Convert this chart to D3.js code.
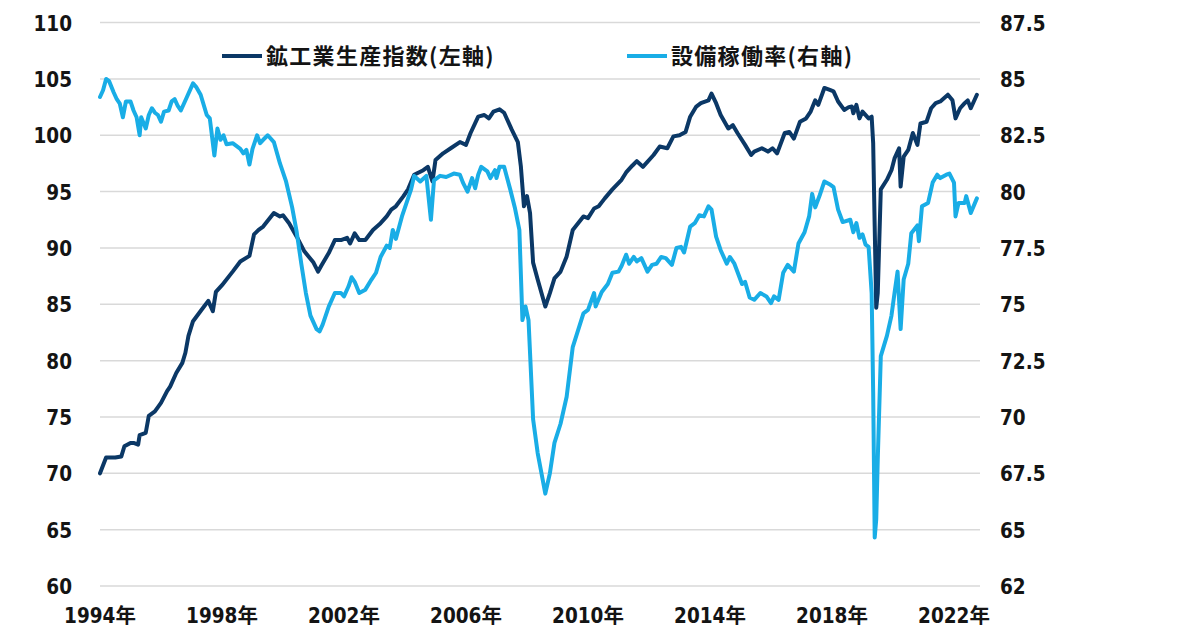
<!DOCTYPE html>
<html lang="ja">
<head>
<meta charset="utf-8">
<title>鉱工業生産指数と設備稼働率</title>
<script src="https://cdn.jsdelivr.net/npm/d3@7"></script>
<style>
  body { margin: 0; background: #fff; }
  svg { display: block; }
  .tick-label {
    font-family: "DejaVu Sans", "Noto Sans CJK JP", sans-serif;
    font-stretch: condensed;
    font-weight: bold;
    font-size: 20.5px;
    fill: #141414;
  }
  .legend-label {
    font-family: "Noto Sans CJK JP", sans-serif;
    font-weight: 700;
    font-size: 22px;
    letter-spacing: 1.3px;
    fill: #141414;
  }
</style>
</head>
<body>
<svg id="chart" width="1200" height="640"></svg>
<script>
// [position on the year axis, value]
const iipPoints = [
  [1994.0, 70.0], [1994.2, 71.4], [1994.5, 71.4], [1994.7, 71.5], [1994.8, 72.4],
  [1995.0, 72.7], [1995.1, 72.7], [1995.25, 72.55], [1995.3, 73.4], [1995.5, 73.6],
  [1995.6, 75.1], [1995.8, 75.5], [1996.0, 76.25], [1996.2, 77.3], [1996.3, 77.7],
  [1996.5, 78.9], [1996.7, 79.8], [1996.8, 80.7], [1996.9, 82.2], [1997.05, 83.5],
  [1997.3, 84.4], [1997.55, 85.3], [1997.7, 84.4], [1997.8, 86.1], [1998.0, 86.7],
  [1998.35, 87.9], [1998.6, 88.8], [1998.9, 89.3], [1999.05, 91.2], [1999.2, 91.6],
  [1999.35, 91.9], [1999.7, 93.1], [1999.9, 92.8], [2000.0, 92.9], [2000.2, 92.2],
  [2000.45, 91.0], [2000.7, 89.7], [2001.0, 88.7], [2001.15, 87.9], [2001.25, 88.4],
  [2001.5, 89.55], [2001.7, 90.7], [2001.9, 90.7], [2002.1, 90.9], [2002.2, 90.4],
  [2002.35, 91.3], [2002.5, 90.7], [2002.7, 90.7], [2002.95, 91.6], [2003.2, 92.2],
  [2003.4, 92.8], [2003.55, 93.4], [2003.7, 93.7], [2003.95, 94.6], [2004.1, 95.2],
  [2004.3, 96.5], [2004.6, 96.9], [2004.75, 97.2], [2004.9, 95.9], [2005.0, 97.8],
  [2005.25, 98.4], [2005.5, 98.85], [2005.8, 99.4], [2006.0, 99.15], [2006.15, 100.2],
  [2006.4, 101.65], [2006.6, 101.8], [2006.75, 101.5], [2006.9, 102.1], [2007.1, 102.3],
  [2007.25, 102.0], [2007.5, 100.5], [2007.7, 99.4], [2007.8, 97.2], [2007.9, 93.7],
  [2008.0, 94.6], [2008.1, 93.1], [2008.2, 88.7], [2008.35, 87.2], [2008.6, 84.8],
  [2008.75, 86.0], [2008.9, 87.3], [2009.1, 87.9], [2009.3, 89.25], [2009.5, 91.6],
  [2009.85, 92.8], [2010.0, 92.65], [2010.2, 93.5], [2010.35, 93.7], [2010.55, 94.4],
  [2010.8, 95.2], [2011.1, 96.05], [2011.25, 96.7], [2011.45, 97.3], [2011.6, 97.7],
  [2011.8, 97.2], [2012.15, 98.25], [2012.35, 99.0], [2012.6, 98.85], [2012.8, 99.9],
  [2013.0, 100.0], [2013.2, 100.3], [2013.35, 101.65], [2013.55, 102.55], [2013.7, 102.85],
  [2013.95, 103.1], [2014.05, 103.7], [2014.2, 102.85], [2014.35, 101.8], [2014.6, 100.6],
  [2014.75, 100.9], [2014.9, 100.2], [2015.15, 99.15], [2015.35, 98.25], [2015.45, 98.55],
  [2015.7, 98.85], [2015.9, 98.55], [2016.05, 98.85], [2016.2, 98.4], [2016.45, 100.2],
  [2016.6, 100.3], [2016.75, 99.7], [2016.95, 101.2], [2017.15, 101.5], [2017.3, 102.1],
  [2017.45, 103.1], [2017.55, 102.7], [2017.75, 104.2], [2017.95, 104.0], [2018.05, 103.9],
  [2018.2, 103.0], [2018.4, 102.25], [2018.55, 102.5], [2018.65, 102.55], [2018.7, 101.95],
  [2018.8, 102.7], [2018.9, 101.5], [2019.0, 102.1], [2019.2, 101.5], [2019.3, 101.65],
  [2019.35, 99.3], [2019.4, 91.9], [2019.45, 84.7], [2019.5, 86.0], [2019.6, 95.2],
  [2019.8, 96.05], [2019.95, 96.9], [2020.05, 97.95], [2020.2, 98.85], [2020.25, 95.45],
  [2020.35, 98.1], [2020.5, 98.7], [2020.65, 100.2], [2020.8, 99.15], [2020.9, 101.05],
  [2021.1, 101.2], [2021.25, 102.4], [2021.4, 102.85], [2021.55, 103.0], [2021.8, 103.6],
  [2021.95, 103.1], [2022.05, 101.5], [2022.2, 102.4], [2022.35, 102.85], [2022.45, 103.1],
  [2022.55, 102.4], [2022.75, 103.6]
];

const utilPoints = [
  [1994.0, 84.2], [1994.1, 84.5], [1994.2, 85.0], [1994.3, 84.9], [1994.45, 84.4],
  [1994.55, 84.1], [1994.65, 83.9], [1994.75, 83.3], [1994.85, 84.0], [1995.0, 84.0],
  [1995.1, 83.6], [1995.2, 83.3], [1995.3, 82.5], [1995.35, 83.3], [1995.5, 82.8],
  [1995.6, 83.4], [1995.7, 83.7], [1995.8, 83.5], [1995.9, 83.4], [1996.0, 83.1],
  [1996.1, 83.55], [1996.25, 83.6], [1996.35, 84.0], [1996.45, 84.1], [1996.55, 83.8],
  [1996.65, 83.6], [1996.85, 84.2], [1997.05, 84.8], [1997.15, 84.65], [1997.3, 84.3],
  [1997.5, 83.4], [1997.6, 83.25], [1997.75, 81.6], [1997.85, 82.8], [1997.95, 82.3],
  [1998.05, 82.5], [1998.15, 82.1], [1998.35, 82.15], [1998.6, 81.9], [1998.7, 81.7],
  [1998.8, 81.85], [1998.9, 81.2], [1999.0, 81.9], [1999.15, 82.5], [1999.25, 82.15],
  [1999.35, 82.3], [1999.5, 82.5], [1999.7, 82.2], [1999.9, 81.25], [2000.1, 80.45],
  [2000.3, 79.3], [2000.45, 78.2], [2000.6, 76.8], [2000.75, 75.5], [2000.9, 74.5],
  [2001.1, 73.9], [2001.2, 73.8], [2001.3, 74.1], [2001.5, 74.9], [2001.7, 75.5],
  [2001.9, 75.5], [2002.0, 75.35], [2002.15, 75.8], [2002.25, 76.2], [2002.35, 76.0],
  [2002.5, 75.5], [2002.7, 75.65], [2002.9, 76.1], [2003.05, 76.4], [2003.2, 77.1],
  [2003.4, 77.6], [2003.5, 77.5], [2003.6, 78.3], [2003.7, 77.9], [2003.9, 78.9],
  [2004.05, 79.5], [2004.2, 80.1], [2004.3, 80.7], [2004.5, 80.45], [2004.7, 80.7],
  [2004.85, 78.75], [2004.95, 80.5], [2005.15, 80.7], [2005.35, 80.65], [2005.6, 80.8],
  [2005.8, 80.75], [2005.9, 80.4], [2006.05, 80.0], [2006.2, 80.6], [2006.3, 80.15],
  [2006.4, 80.75], [2006.5, 81.1], [2006.7, 80.9], [2006.8, 80.6], [2006.95, 80.95],
  [2007.0, 80.6], [2007.1, 81.1], [2007.25, 81.1], [2007.45, 80.1], [2007.6, 79.3],
  [2007.75, 78.3], [2007.85, 74.3], [2007.95, 74.9], [2008.05, 74.3], [2008.2, 69.9],
  [2008.35, 68.4], [2008.6, 66.6], [2008.75, 67.5], [2008.9, 68.85], [2009.1, 69.7],
  [2009.3, 70.9], [2009.5, 73.1], [2009.85, 74.6], [2010.0, 74.75], [2010.2, 75.5],
  [2010.25, 74.9], [2010.45, 75.55], [2010.65, 75.9], [2010.8, 76.4], [2011.0, 76.45],
  [2011.1, 76.7], [2011.25, 77.2], [2011.35, 76.8], [2011.5, 77.1], [2011.6, 76.9],
  [2011.75, 77.05], [2011.95, 76.45], [2012.1, 76.75], [2012.25, 76.8], [2012.4, 77.1],
  [2012.55, 77.05], [2012.75, 76.75], [2012.9, 77.5], [2013.05, 77.55], [2013.15, 77.3],
  [2013.35, 78.45], [2013.5, 78.6], [2013.65, 78.95], [2013.8, 78.9], [2013.95, 79.35],
  [2014.05, 79.2], [2014.2, 78.0], [2014.35, 77.4], [2014.55, 76.8], [2014.65, 77.1],
  [2014.8, 76.8], [2015.05, 75.9], [2015.15, 76.0], [2015.3, 75.3], [2015.45, 75.2],
  [2015.65, 75.5], [2015.85, 75.35], [2016.0, 75.05], [2016.1, 75.35], [2016.25, 75.2],
  [2016.4, 76.4], [2016.55, 76.75], [2016.75, 76.45], [2016.9, 77.7], [2017.1, 78.2],
  [2017.25, 78.9], [2017.35, 79.9], [2017.45, 79.3], [2017.6, 79.85], [2017.75, 80.45],
  [2017.95, 80.3], [2018.05, 80.2], [2018.2, 79.2], [2018.35, 78.65], [2018.6, 78.75],
  [2018.7, 78.2], [2018.8, 78.6], [2018.9, 77.95], [2019.0, 78.1], [2019.1, 77.65],
  [2019.2, 77.55], [2019.3, 75.5], [2019.35, 71.1], [2019.4, 64.65], [2019.45, 65.45],
  [2019.5, 68.1], [2019.6, 72.7], [2019.8, 73.6], [2019.95, 74.5], [2020.05, 75.5],
  [2020.15, 76.45], [2020.25, 73.9], [2020.35, 76.1], [2020.5, 76.8], [2020.6, 78.15],
  [2020.8, 78.5], [2020.85, 77.8], [2020.95, 79.35], [2021.15, 79.5], [2021.3, 80.4],
  [2021.45, 80.75], [2021.55, 80.6], [2021.75, 80.75], [2021.85, 80.8], [2022.0, 80.4],
  [2022.05, 78.9], [2022.15, 79.5], [2022.35, 79.5], [2022.4, 79.8], [2022.55, 79.05],
  [2022.75, 79.7]
];

const leftTicks = [60, 65, 70, 75, 80, 85, 90, 95, 100, 105, 110];
const rightTicks = [62.5, 65, 67.5, 70, 72.5, 75, 77.5, 80, 82.5, 85, 87.5];
const rightTickLabels = ["62", "65", "67.5", "70", "72.5", "75", "77.5", "80", "82.5", "85", "87.5"];
const yearTicks = [1994, 1998, 2002, 2006, 2010, 2014, 2018, 2022];
const seriesNames = ["鉱工業生産指数(左軸)", "設備稼働率(右軸)"];
const seriesColors = ["#0b3866", "#19ade6"];

const svg = d3.select("#chart");
const plotLeft = 100;
const plotRight = 980;

const x = d3.scaleLinear().domain([1994, 2022]).range([plotLeft, 954]);
const yLeft = d3.scaleLinear().domain([60, 110]).range([586, 22.6]);
const yRight = d3.scaleLinear().domain([62.5, 87.5]).range([586, 22.6]);

svg.append("rect")
  .attr("width", 1200)
  .attr("height", 640)
  .attr("fill", "#fff");

// gridlines follow the left axis ticks
svg.append("g")
  .selectAll("line")
  .data(leftTicks)
  .enter().append("line")
  .attr("x1", plotLeft)
  .attr("x2", plotRight)
  .attr("y1", d => yLeft(d))
  .attr("y2", d => yLeft(d))
  .attr("stroke", "#d9d9d9")
  .attr("stroke-width", 1.5);

svg.append("g")
  .selectAll("text")
  .data(leftTicks)
  .enter().append("text")
  .attr("class", "tick-label")
  .attr("x", 72)
  .attr("y", d => yLeft(d) + 8)
  .attr("text-anchor", "end")
  .text(d => d);

svg.append("g")
  .selectAll("text")
  .data(rightTicks)
  .enter().append("text")
  .attr("class", "tick-label")
  .attr("x", 1000)
  .attr("y", d => yRight(d) + 8)
  .text((d, i) => rightTickLabels[i]);

svg.append("g")
  .selectAll("text")
  .data(yearTicks)
  .enter().append("text")
  .attr("class", "tick-label")
  .attr("x", d => x(d))
  .attr("y", 623)
  .attr("text-anchor", "middle")
  .text(d => d + "年");

const iipLine = d3.line()
  .x(d => x(d[0]))
  .y(d => yLeft(d[1]));

const utilLine = d3.line()
  .x(d => x(d[0]))
  .y(d => yRight(d[1]));

svg.append("path")
  .datum(iipPoints)
  .attr("d", iipLine)
  .attr("fill", "none")
  .attr("stroke", seriesColors[0])
  .attr("stroke-width", 4)
  .attr("stroke-linejoin", "round")
  .attr("stroke-linecap", "round");

svg.append("path")
  .datum(utilPoints)
  .attr("d", utilLine)
  .attr("fill", "none")
  .attr("stroke", seriesColors[1])
  .attr("stroke-width", 4)
  .attr("stroke-linejoin", "round")
  .attr("stroke-linecap", "round");

const legendX = [222, 627];
const legend = svg.append("g")
  .selectAll("g")
  .data(seriesNames)
  .enter().append("g")
  .attr("transform", (d, i) => `translate(${legendX[i]},56)`);

legend.append("line")
  .attr("x1", 0)
  .attr("x2", 40)
  .attr("stroke", (d, i) => seriesColors[i])
  .attr("stroke-width", 4);

legend.append("text")
  .attr("class", "legend-label")
  .attr("x", 44)
  .attr("dy", "0.36em")
  .text(d => d);
</script>
</body>
</html>
